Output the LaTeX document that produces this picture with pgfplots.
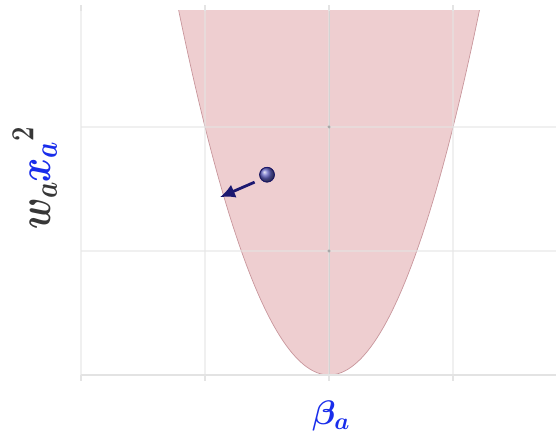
\RequirePackage{fix-cm}
\documentclass[border=0pt]{standalone}
\usepackage{pgfplots}
\pgfplotsset{compat=1.18}
\usetikzlibrary{arrows.meta}

\definecolor{regionfill}{RGB}{238,206,208}
\definecolor{regionedge}{RGB}{200,150,156}
\definecolor{gridgray}{RGB}{228,228,228}
\definecolor{labelblue}{RGB}{25,45,235}
\definecolor{labelgray}{RGB}{55,55,55}
\definecolor{arrownavy}{RGB}{28,24,112}
\definecolor{ballblue}{RGB}{100,100,195}

\begin{document}
\begin{tikzpicture}
\path[use as bounding box] (-81pt,-59pt) rectangle (475pt,375pt);
\begin{axis}[
  scale only axis,
  width=475pt, height=364pt,
  xmin=-2, xmax=1.83,
  ymin=0, ymax=2.935,
  xtick={-2,-1,0,1}, ytick={0,1,2},
  xticklabels={}, yticklabels={},
  grid=major,
  major grid style={gridgray, line width=1.4pt, opacity=0.55},
  axis line style={draw=none},
  tick align=outside,
  major tick length=6pt,
  xtick style={gridgray, line width=1.3pt},
  ytick style={draw=none},
  axis on top,
  clip=true,
]
% feasible region under the parabola
\addplot[fill=regionfill, draw=regionedge, line width=0.7pt, smooth] coordinates {
  (-1.25,3.125) (-1.2,2.88) (-1.15,2.645) (-1.1,2.42) (-1.05,2.205)
  (-1.0,2.0) (-0.95,1.805) (-0.9,1.62) (-0.85,1.445) (-0.8,1.28)
  (-0.75,1.125) (-0.7,0.98) (-0.65,0.845) (-0.6,0.72) (-0.55,0.605)
  (-0.5,0.5) (-0.45,0.405) (-0.4,0.32) (-0.35,0.245) (-0.3,0.18)
  (-0.25,0.125) (-0.2,0.08) (-0.15,0.045) (-0.1,0.02) (-0.05,0.005)
  (0,0)
  (0.05,0.005) (0.1,0.02) (0.15,0.045) (0.2,0.08) (0.25,0.125)
  (0.3,0.18) (0.35,0.245) (0.4,0.32) (0.45,0.405) (0.5,0.5)
  (0.55,0.605) (0.6,0.72) (0.65,0.845) (0.7,0.98) (0.75,1.125)
  (0.8,1.28) (0.85,1.445) (0.9,1.62) (0.95,1.805) (1.0,2.0)
  (1.05,2.205) (1.1,2.42) (1.15,2.645) (1.2,2.88) (1.25,3.125)
};
% central vertical line
\addplot[draw=gray!50, line width=0.7pt] coordinates {(0,0) (0,2.935)};
% small dots on the centre line
\addplot[only marks, mark=*, mark size=1.3pt, color=gray!70] coordinates {(0,1) (0,2)};
% baseline
\addplot[draw=gray!22, line width=2.8pt] coordinates {(-2,0) (1.83,0)};
% projection step
\addplot[arrownavy, line width=2.8pt, -{Latex[length=15pt,width=14pt]}, shorten >=-2pt]
  coordinates {(-0.6,1.555) (-0.865,1.44)};
% current point
\addplot[only marks, mark=ball, mark size=7.4pt,
  mark options={ball color=ballblue}]
  coordinates {(-0.5,1.615)};
\addplot[only marks, mark=o, mark size=7.4pt,
  mark options={draw=arrownavy, line width=0.8pt}]
  coordinates {(-0.5,1.615)};
\end{axis}
\node[rotate=90, anchor=base, inner sep=0pt] at (-31pt,197pt)
  {\scalebox{0.8}[1]{\fontsize{46}{52}\selectfont\boldmath
   $\color{labelgray}w_a{\color{labelblue}x}_{\color{labelblue}a}^{2}$}};
\node[anchor=north, font=\fontsize{34}{40}\selectfont\boldmath, text=labelblue]
  at (250pt,-22pt) {$\beta_a$};
\end{tikzpicture}
\end{document}
